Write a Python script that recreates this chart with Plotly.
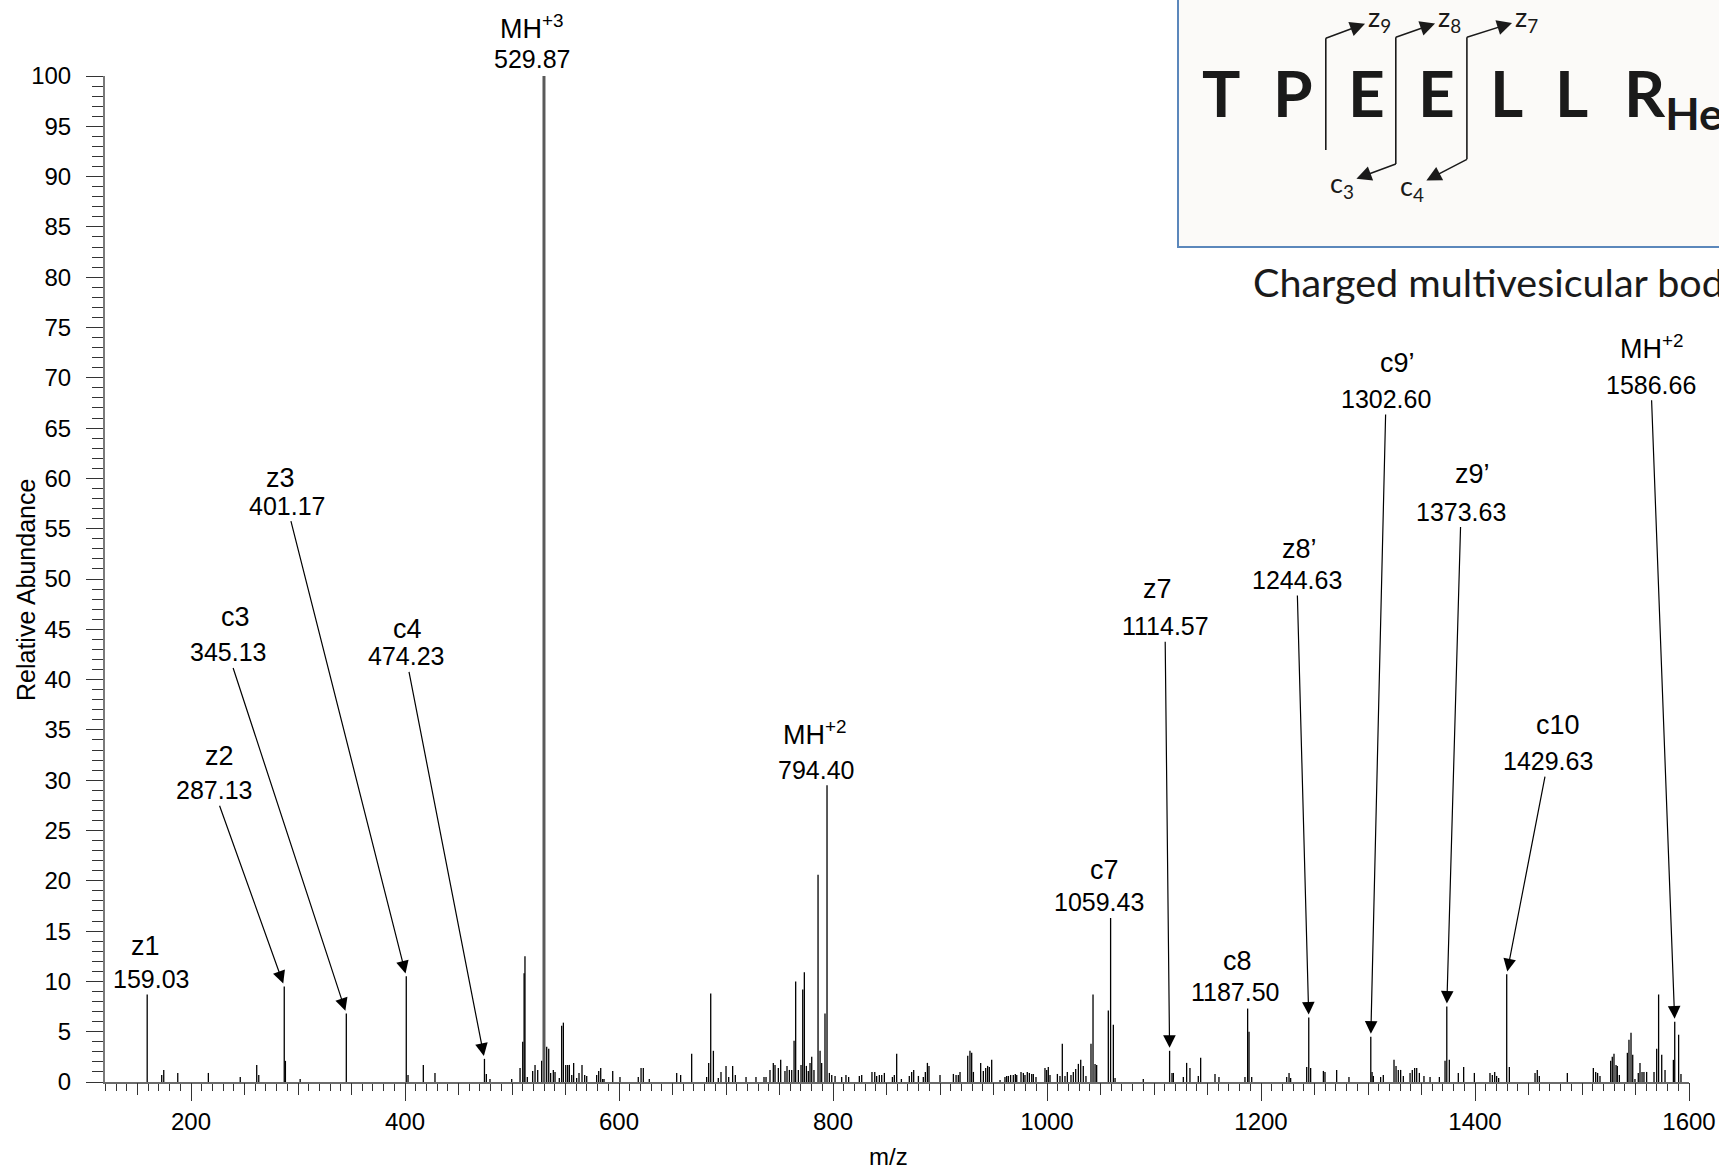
import plotly.graph_objects as go

# ------------------------------------------------------------------ data
# unlabelled spectrum peaks (m/z, relative abundance %)
PEAK_MZ = [
    172.6, 174.5, 187.6, 216.2, 246.0, 261.4, 263.3, 288.2, 302.0, 402.8,
    417.1, 428.0, 476.0, 479.4, 499.7, 507.5, 510.0, 511.3, 512.1, 514.3,
    519.3, 521.5, 524.0, 527.7, 532.4, 534.3, 536.1, 538.6, 540.2, 544.2,
    546.4, 548.0, 550.2, 552.0, 553.6, 555.8, 557.6, 560.4, 562.6, 565.4,
    567.9, 569.8, 579.1, 581.0, 582.9, 584.7, 586.0, 594.1, 600.9, 618.0,
    620.6, 622.7, 628.3, 653.9, 657.6, 667.9, 681.9, 683.8, 685.7, 688.2,
    692.8, 695.3, 700.0, 702.5, 706.2, 708.7, 718.7, 728.0, 735.5, 737.4,
    741.1, 744.2, 745.8, 748.9, 751.1, 755.1, 757.0, 759.2, 761.4, 763.6,
    765.1, 767.6, 770.1, 771.7, 773.2, 775.1, 776.9, 778.5, 780.1, 782.2,
    786.0, 787.9, 789.4, 792.5, 796.6, 798.8, 801.9, 808.1, 812.1, 814.6,
    824.6, 826.8, 836.4, 839.0, 840.8, 843.3, 845.5, 848.0, 855.5, 857.3,
    859.5, 863.9, 871.3, 873.5, 875.4, 879.8, 884.4, 886.3, 888.2, 889.7,
    900.0, 912.5, 915.0, 917.1, 918.7, 925.9, 928.0, 929.6, 931.2, 938.0,
    940.5, 942.7, 944.5, 946.1, 948.3, 956.1, 960.7, 962.3, 963.9, 966.0,
    968.5, 970.4, 971.7, 975.7, 977.9, 979.4, 981.6, 983.5, 985.7, 987.2,
    989.7, 998.1, 999.7, 1001.2, 1002.8, 1009.7, 1012.1, 1014.3, 1016.8, 1019.0,
    1022.4, 1024.6, 1026.8, 1029.3, 1031.5, 1033.9, 1036.4, 1041.1, 1043.0, 1044.9,
    1046.4, 1057.3, 1062.0, 1063.6, 1090.0, 1116.8, 1118.1, 1127.4, 1130.5, 1133.6,
    1141.4, 1143.6, 1157.0, 1160.7, 1185.0, 1188.8, 1191.3, 1224.0, 1226.2, 1227.7,
    1242.7, 1246.4, 1258.3, 1259.8, 1270.7, 1282.2, 1303.8, 1305.0, 1311.8, 1314.3,
    1324.3, 1326.2, 1328.3, 1330.5, 1333.0, 1339.3, 1341.4, 1343.6, 1345.5, 1348.0,
    1352.3, 1358.0, 1366.7, 1372.0, 1376.0, 1384.4, 1389.4, 1399.4, 1414.0, 1416.2,
    1418.4, 1420.2, 1422.1, 1432.1, 1456.1, 1458.2, 1460.1, 1486.3, 1510.6, 1512.8,
    1514.6, 1516.8, 1526.8, 1528.3, 1529.9, 1531.8, 1533.0, 1534.9, 1542.4, 1543.9,
    1545.8, 1547.4, 1549.5, 1552.6, 1554.2, 1556.1, 1557.9, 1560.4, 1567.3, 1569.8,
    1571.6, 1574.5, 1577.6, 1585.4, 1590.3, 1592.5,
]
PEAK_INT = [
    0.7, 1.2, 0.9, 0.9, 0.5, 1.7, 0.7, 2.1, 0.3, 0.7,
    1.7, 0.9, 0.8, 0.3, 0.3, 1.4, 4.0, 10.8, 12.5, 0.5,
    1.1, 1.7, 1.2, 2.1, 3.5, 3.3, 0.9, 1.2, 1.0, 0.4,
    5.6, 5.9, 1.7, 1.7, 1.7, 0.7, 1.9, 0.4, 0.9, 1.7,
    0.7, 0.6, 0.7, 1.1, 1.4, 0.3, 0.3, 1.1, 0.5, 0.5,
    1.4, 1.4, 0.3, 0.9, 0.7, 2.8, 0.5, 1.9, 8.8, 3.1,
    0.4, 1.0, 1.6, 0.5, 1.6, 0.7, 0.5, 0.5, 0.5, 0.5,
    1.2, 1.9, 1.7, 1.4, 2.2, 1.1, 1.6, 1.2, 1.2, 4.1,
    10.0, 1.2, 1.7, 9.2, 10.9, 1.6, 1.1, 1.9, 2.5, 1.2,
    20.6, 3.1, 1.9, 6.8, 0.9, 0.7, 0.6, 0.5, 0.7, 0.5,
    0.6, 0.7, 1.0, 1.0, 0.6, 0.7, 0.7, 0.9, 0.5, 0.7,
    2.8, 0.3, 0.6, 1.0, 1.2, 0.6, 0.5, 1.0, 1.9, 1.6,
    0.7, 0.8, 0.7, 0.7, 1.0, 2.6, 3.1, 2.9, 1.0, 1.9,
    1.1, 1.4, 1.6, 1.5, 2.2, 0.2, 0.5, 0.6, 0.6, 0.7,
    0.7, 0.8, 0.7, 1.0, 0.9, 0.7, 1.0, 0.9, 0.8, 0.8,
    0.5, 1.4, 1.2, 1.5, 0.7, 0.8, 0.6, 3.8, 0.6, 1.0,
    0.7, 1.0, 1.3, 1.8, 2.2, 1.6, 0.6, 3.8, 8.7, 1.8,
    1.7, 7.1, 5.7, 0.4, 0.3, 0.9, 0.9, 0.5, 1.9, 1.4,
    0.6, 2.4, 0.8, 0.5, 0.5, 5.0, 0.5, 0.5, 0.9, 0.4,
    1.5, 1.4, 1.1, 1.0, 1.2, 0.5, 1.0, 0.6, 0.5, 0.7,
    2.2, 1.6, 1.2, 1.2, 0.6, 0.9, 1.2, 1.4, 1.4, 0.9,
    0.6, 0.5, 0.5, 2.1, 2.2, 0.9, 1.5, 0.9, 0.9, 0.7,
    1.0, 0.6, 0.4, 1.5, 0.9, 1.2, 0.6, 0.9, 1.4, 1.0,
    0.9, 0.6, 2.1, 2.5, 2.8, 1.7, 1.6, 0.7, 2.9, 4.2,
    4.9, 2.7, 0.3, 0.9, 1.9, 1.0, 1.0, 1.0, 1.0, 3.3,
    8.7, 2.7, 1.2, 2.2, 4.7, 0.8,
]

# annotated fragment / precursor ions
ION_NAME = ["z1", "z2", "c3", "z3", "c4", "MH<sup>+3</sup>", "MH<sup>+2</sup>", "c7",
            "z7", "c8", "z8\u2019", "c9\u2019", "z9\u2019", "c10", "MH<sup>+2</sup>"]
ION_LABEL = ["159.03", "287.13", "345.13", "401.17", "474.23", "529.87", "794.40", "1059.43",
             "1114.57", "1187.50", "1244.63", "1302.60", "1373.63", "1429.63", "1586.66"]
ION_MZ = [159.03, 287.13, 345.13, 401.17, 474.23, 529.87, 794.40, 1059.43,
          1114.57, 1187.50, 1244.63, 1302.60, 1373.63, 1429.63, 1586.66]
ION_INT = [8.7, 9.5, 6.8, 10.5, 2.3, 100.0, 29.5, 16.3,
           3.1, 7.3, 6.4, 4.5, 7.5, 10.7, 6.0]
ION_ARROW = [False, True, True, True, True, False, False, False,
             True, False, True, True, True, True, True]
BASE_PEAK = "529.87"

X_TICKS = [200, 400, 600, 800, 1000, 1200, 1400, 1600]
Y_TICKS = list(range(0, 101, 5))

SEQUENCE = ["T", "P", "E", "E", "L", "L", "R<sub>Hex</sub>"]
FRAGMENTS = ["z<sub>9</sub>", "z<sub>8</sub>", "z<sub>7</sub>", "c<sub>3</sub>", "c<sub>4</sub>"]
PROTEIN = "Charged multivesicular body protein"

# ------------------------------------------------------------------ layout positions
W, H = 1719, 1175
ML, MR, MT, MB = 105, 30, 76, 93
PW, PH = W - ML - MR, H - MT - MB
X_RANGE = [119.6, 1600]
Y_RANGE = [0, 100]


def px(X):
    return (X - ML) / PW


def py(Y):
    return (H - MB - Y) / PH


# label centres (data coords) for ion name / m/z value
NAME_X = [157.9, 226.2, 241.1, 283.2, 401.9, 518.7, 783.2, 1053.3,
          1103.7, 1177.6, 1236.4, 1328.0, 1398.1, 1477.6, 1565.4]
NAME_Y = [13.5, 32.4, 46.2, 60.0, 45.0, 104.9, 34.7, 21.1,
          49.0, 12.0, 53.0, 71.5, 60.4, 35.5, 73.1]
VAL_X = [162.6, 221.5, 234.6, 289.7, 400.9, 518.7, 784.1, 1048.6,
         1110.3, 1175.7, 1233.6, 1316.8, 1386.9, 1468.2, 1564.5]
VAL_Y = [10.2, 29.0, 42.7, 57.3, 42.3, 101.7, 31.0, 17.9,
         45.3, 8.9, 49.9, 67.9, 56.7, 31.9, 69.3]

FONT = "Liberation Sans, Arial, sans-serif"
INSET_FONT = "Lato, Open Sans, sans-serif"

# ------------------------------------------------------------------ traces
sx, sy = [], []
for m, h in zip(PEAK_MZ + ION_MZ, PEAK_INT + ION_INT):
    if f"{m:.2f}" == BASE_PEAK:
        continue
    sx += [m, m, None]
    sy += [0, h, None]

bx, by = [], []
for m, h, lab in zip(ION_MZ, ION_INT, ION_LABEL):
    if lab == BASE_PEAK:
        bx += [m, m]
        by += [0, h]

fig = go.Figure()
fig.add_trace(go.Scatter(x=sx, y=sy, mode="lines", line=dict(color="black", width=1.3),
                         hoverinfo="skip", showlegend=False))
fig.add_trace(go.Scatter(x=bx, y=by, mode="lines", line=dict(color="#5a5a5a", width=3),
                         xaxis="x2", hoverinfo="skip", showlegend=False))


def ypos(v):
    """annotations above the y range are placed in paper units (same scale)."""
    if v > Y_RANGE[1]:
        return dict(y=v / Y_RANGE[1], yref="paper")
    return dict(y=v, yref="y")


ann = []
for i in range(len(ION_MZ)):
    ann.append(dict(x=NAME_X[i], xref="x", text=ION_NAME[i], showarrow=False,
                    xanchor="center", yanchor="middle",
                    font=dict(family=FONT, size=27, color="black"), **ypos(NAME_Y[i])))
    if ION_ARROW[i]:
        ann.append(dict(x=ION_MZ[i], y=ION_INT[i], xref="x", yref="y",
                        ax=VAL_X[i], ay=VAL_Y[i], axref="x", ayref="y", text=ION_LABEL[i],
                        showarrow=True, arrowhead=2, arrowsize=2.1, arrowwidth=1.2,
                        arrowcolor="black", standoff=3, xanchor="center", yanchor="middle",
                        font=dict(family=FONT, size=25, color="black")))
    else:
        ann.append(dict(x=VAL_X[i], xref="x", text=ION_LABEL[i], showarrow=False,
                        xanchor="center", yanchor="middle",
                        font=dict(family=FONT, size=25, color="black"), **ypos(VAL_Y[i])))

# axis titles
ann.append(dict(x=px(26), y=py(590), xref="paper", yref="paper", text="Relative Abundance",
                textangle=-90, showarrow=False, xanchor="center", yanchor="middle",
                font=dict(family=FONT, size=25, color="black")))
ann.append(dict(x=px(888), y=py(1156), xref="paper", yref="paper", text="m/z",
                showarrow=False, xanchor="center", yanchor="middle",
                font=dict(family=FONT, size=24, color="black")))

# ------------------------------------------------------------------ inset
shapes = [dict(type="rect", xref="paper", yref="paper", x0=px(1178), x1=px(1760),
               y0=py(247), y1=py(-30), fillcolor="#fbfaf8",
               line=dict(color="#5b87bb", width=2), layer="above")]

LETTER_X = [1220.8, 1292.5, 1366.0, 1436.0, 1506.0, 1571.0, 1622.0]
for i, letter in enumerate(SEQUENCE):
    ann.append(dict(x=px(LETTER_X[i]), y=py(52), xref="paper", yref="paper", text=letter,
                    showarrow=False, xanchor="left" if i == len(SEQUENCE) - 1 else "center",
                    yanchor="top",
                    font=dict(family=INSET_FONT, size=64, color="#1a1a1a", weight="bold")))

# cleavage lines: x, top, bottom
CUT_X = [1325.8, 1395.8, 1466.9]
CUT_TOP = [38.3, 37.3, 37.3]
CUT_BOT = [150.0, 164.0, 159.3]
for X, t, b in zip(CUT_X, CUT_TOP, CUT_BOT):
    shapes.append(dict(type="line", xref="paper", yref="paper", x0=px(X), x1=px(X),
                       y0=py(t), y1=py(b), line=dict(color="#1a1a1a", width=1.6), layer="above"))

# fragment labels with arrows from the cleavage-line corner (corner X, Y, label centre X, Y)
FRAG_ARROWS = [(1325.8, 38.3, 1379.0, 18.5), (1395.8, 37.3, 1449.0, 18.5),
               (1466.9, 37.3, 1526.0, 18.5), (1395.8, 164.0, 1342.0, 184.0),
               (1466.9, 159.3, 1412.0, 188.0)]
for t, (cx, cy, lx, ly) in zip(FRAGMENTS, FRAG_ARROWS):
    ann.append(dict(x=px(cx), y=py(cy), xref="paper", yref="paper", ax=lx - cx, ay=ly - cy,
                    text=t, showarrow=True, arrowside="start", startarrowhead=2,
                    startarrowsize=2.0, arrowwidth=1.5, arrowcolor="#1a1a1a",
                    startstandoff=1, xanchor="center", yanchor="middle",
                    font=dict(family=INSET_FONT, size=27, color="#1a1a1a")))

ann.append(dict(x=px(1251), y=py(256), xref="paper", yref="paper", text=PROTEIN,
                showarrow=False, xanchor="left", yanchor="top",
                font=dict(family=INSET_FONT, size=39.5, color="#1a1a1a")))

# ------------------------------------------------------------------ layout
fig.update_layout(
    width=W, height=H,
    margin=dict(l=ML, r=MR, t=MT, b=MB, autoexpand=False),
    paper_bgcolor="white", plot_bgcolor="white",
    showlegend=False,
    font=dict(family=FONT, color="black"),
    xaxis=dict(range=X_RANGE, showgrid=False, zeroline=False, showline=True,
               linecolor="#6a6a6a", linewidth=2, ticks="outside", tickmode="array",
               tickvals=X_TICKS, ticktext=[str(v) for v in X_TICKS], ticklen=17,
               tickwidth=1.2, tickcolor="#333",
               tickfont=dict(family=FONT, size=24, color="black"),
               minor=dict(ticks="outside", tickmode="linear", tick0=0, dtick=10, ticklen=7,
                          tickwidth=1, tickcolor="#333")),
    xaxis2=dict(range=X_RANGE, overlaying="x", anchor="y", side="bottom", showgrid=False,
                zeroline=False, showline=False, ticks="outside", tickmode="linear",
                tick0=0, dtick=50, ticklen=12, tickwidth=1.2, tickcolor="#333",
                showticklabels=False),
    yaxis=dict(range=Y_RANGE, showgrid=False, zeroline=False, showline=True,
               linecolor="#7a7a7a", linewidth=2, ticks="outside", tickmode="array",
               tickvals=Y_TICKS, ticktext=[str(v) for v in Y_TICKS], ticklen=17,
               tickwidth=1.2, tickcolor="#333", ticklabelstandoff=10,
               tickfont=dict(family=FONT, size=24, color="black"),
               minor=dict(ticks="outside", tickmode="linear", tick0=0, dtick=1, ticklen=11,
                          tickwidth=1, tickcolor="#333")),
    annotations=ann,
    shapes=shapes,
)

fig.write_html("out.html", config={"displayModeBar": False},
               post_script="document.body.style.margin = '0px';")
